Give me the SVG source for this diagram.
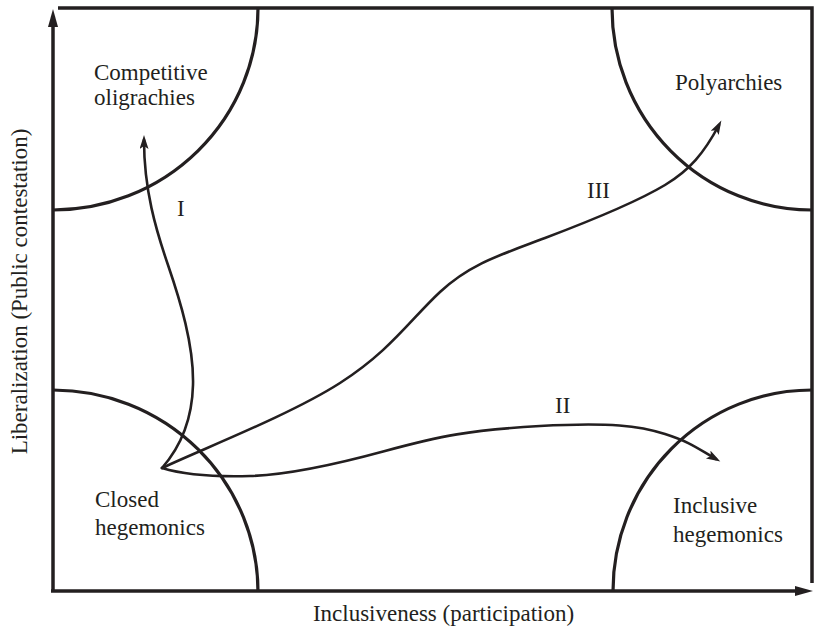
<svg xmlns="http://www.w3.org/2000/svg" width="815" height="631" viewBox="0 0 815 631">
<style>
.lbl{font-family:"Liberation Serif","Times New Roman",serif;font-size:23px;fill:#231f20}
.frame{fill:none;stroke:#231f20;stroke-width:3.5}
.arc{fill:none;stroke:#231f20;stroke-width:3.2}
.path{fill:none;stroke:#231f20;stroke-width:2.6;stroke-linecap:round}
</style>
<defs>
<marker id="ah" markerUnits="userSpaceOnUse" markerWidth="18" markerHeight="12" refX="9" refY="4.5" orient="auto">
<path d="M0,0 L14,4.5 L0,9 L3,4.5 z" fill="#231f20"/>
</marker>
<marker id="axh" markerUnits="userSpaceOnUse" markerWidth="20" markerHeight="12" refX="10" refY="5" orient="auto">
<path d="M0,0 L18,5 L0,10 z" fill="#231f20"/>
</marker>
</defs>
<g id="frame">
<path class="frame" d="M58,8 L812,8 L812,583"/>
<path class="frame" d="M53,592 L53,17" marker-end="url(#axh)"/>
<path class="frame" d="M51,591 L805,591" marker-end="url(#axh)"/>
</g>
<g id="competitive-oligarchies">
<path class="arc" d="M258,8 A205,202 0 0 1 53,210"/>
<text class="lbl" x="94" y="80">Competitive</text>
<text class="lbl" x="94" y="105">oligrachies</text>
</g>
<g id="polyarchies">
<path class="arc" d="M612,8 A200,202 0 0 0 812,210"/>
<text class="lbl" x="675" y="90">Polyarchies</text>
</g>
<g id="closed-hegemonics">
<path class="arc" d="M53,390 A205,202 0 0 1 258,592"/>
<text class="lbl" x="95" y="507">Closed</text>
<text class="lbl" x="95" y="535">hegemonics</text>
</g>
<g id="inclusive-hegemonics">
<path class="arc" d="M812,390 A199,201 0 0 0 613,591"/>
<text class="lbl" x="673" y="513">Inclusive</text>
<text class="lbl" x="673" y="542">hegemonics</text>
</g>
<g id="connectors">
<path class="path" d="M162,468 C176,452 192,425 193,385 S180,300 168,265 S144,190 144,140" marker-end="url(#ah)"/>
<path class="path" d="M162,468 C200,450 290,415 340,383 S410,320 440,292 S500,255 545,238 S640,200 665,185 S704,153 719,125" marker-end="url(#ah)"/>
<path class="path" d="M162,468 C185,475 215,477 250,476 S330,466 385,451 S470,430 540,426 S640,426 665,434 S697,448 716,459" marker-end="url(#ah)"/>
<text class="lbl" x="177" y="216">I</text>
<text class="lbl" x="587" y="198">III</text>
<text class="lbl" x="555" y="413">II</text>
</g>
<g id="axis-labels">
<text class="lbl" x="443.5" y="621" text-anchor="middle">Inclusiveness (participation)</text>
<text class="lbl" transform="translate(27,291.5) rotate(-90)" text-anchor="middle">Liberalization (Public contestation)</text>
</g>
</svg>
